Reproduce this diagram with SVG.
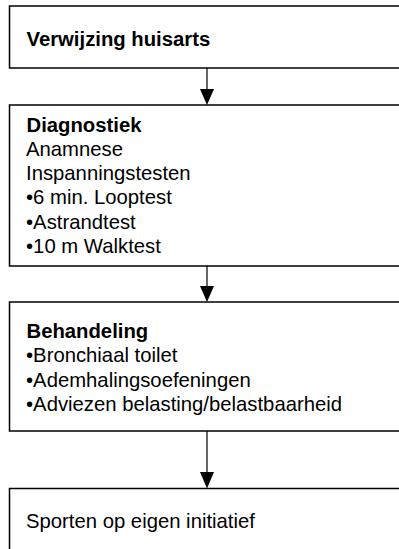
<svg xmlns="http://www.w3.org/2000/svg" width="399" height="549" viewBox="0 0 399 549">
  <style>
    .box { fill: #ffffff; stroke: #000000; stroke-width: 1.5; }
    .link { stroke: #000000; stroke-width: 1.2; fill: none; }
    .head { fill: #000000; stroke: none; }
    text { font-family: "Liberation Sans", Arial, sans-serif; font-size: 20.3px; fill: #000000; }
    .title { font-weight: bold; }
  </style>
  <rect width="399" height="549" fill="#ffffff"/>

  <g id="connectors">
    <line class="link" x1="207" y1="68" x2="207" y2="90"/>
    <polygon class="head" points="200,89 214,89 207,105"/>
    <line class="link" x1="207" y1="266" x2="207" y2="287"/>
    <polygon class="head" points="200,286 214,286 207,302"/>
    <line class="link" x1="207" y1="431" x2="207" y2="473"/>
    <polygon class="head" points="200,472 214,472 207,488.5"/>
  </g>

  <g id="verwijzing">
    <rect class="box" x="9.5" y="6" width="400" height="62"/>
    <text class="title" x="26.5" y="45.5">Verwijzing huisarts</text>
  </g>

  <g id="diagnostiek">
    <rect class="box" x="9.5" y="105" width="400" height="161"/>
    <text class="title" x="26.5" y="131.5">Diagnostiek</text>
    <text x="26" y="156">Anamnese</text>
    <text x="26" y="180">Inspanningstesten</text>
    <text x="26" y="204.3">•6 min. Looptest</text>
    <text x="26" y="228.6">•Astrandtest</text>
    <text x="26" y="253">•10 m Walktest</text>
  </g>

  <g id="behandeling">
    <rect class="box" x="9.5" y="302" width="400" height="129"/>
    <text class="title" x="26.5" y="338">Behandeling</text>
    <text x="26" y="362">•Bronchiaal toilet</text>
    <text x="26" y="386.5">•Ademhalingsoefeningen</text>
    <text x="26" y="410.5">•Adviezen belasting/belastbaarheid</text>
  </g>

  <g id="sporten">
    <rect class="box" x="9.5" y="488.5" width="400" height="80"/>
    <text x="26" y="528">Sporten op eigen initiatief</text>
  </g>
</svg>
